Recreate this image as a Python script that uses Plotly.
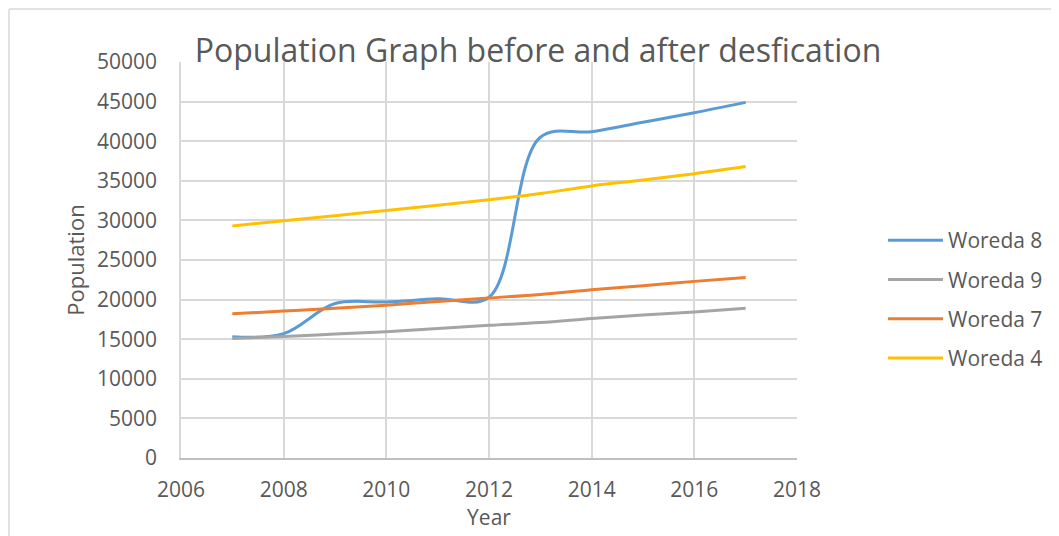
import plotly.graph_objects as go

years = [2007, 2008, 2009, 2010, 2011, 2012, 2013, 2014, 2015, 2016, 2017]
woreda8 = [15300, 15700, 19500, 19700, 20100, 20300, 40500, 41200, 42400, 43600, 44900]
woreda9 = [15100, 15350, 15650, 15950, 16350, 16750, 17100, 17600, 18050, 18450, 18900]
woreda7 = [18200, 18550, 18900, 19300, 19750, 20200, 20650, 21250, 21750, 22300, 22800]
woreda4 = [29300, 29950, 30600, 31250, 31900, 32600, 33400, 34350, 35100, 35900, 36800]

series = [
    ('Woreda 8', woreda8, '#5b9bd5'),
    ('Woreda 9', woreda9, '#a5a5a5'),
    ('Woreda 7', woreda7, '#ed7d31'),
    ('Woreda 4', woreda4, '#ffc000'),
]

FONT = 'Open Sans'
GREY = '#595959'

fig = go.Figure()
for name, vals, col in series:
    fig.add_trace(go.Scatter(
        x=years, y=vals, name=name, mode='lines',
        line=dict(color=col, width=3, shape='spline', smoothing=1.0),
        legendgroup=name))

# page body has an 8px margin, so work in figure pixels = window pixels - 8
OFF = 8
W, H = 1059 - OFF, 536 - OFF
L, R, T, B = 181 - OFF, W - (797 - OFF), 62 - OFF, H - (458 - OFF)
pw, ph = W - L - R, H - T - B

def px(x):
    return (x - OFF - L) / pw

def py(y):
    return (H - B - (y - OFF)) / ph

# outer chart border (top and left edges visible)
fig.add_shape(type='line', xref='paper', yref='paper',
              x0=px(9), x1=px(1070), y0=py(9), y1=py(9),
              line=dict(color='#d9d9d9', width=1.5))
fig.add_shape(type='line', xref='paper', yref='paper',
              x0=px(9), x1=px(9), y0=py(9), y1=py(545),
              line=dict(color='#d9d9d9', width=1.5))

fig.update_layout(
    width=W, height=H,
    margin=dict(l=L, r=R, t=T, b=B, autoexpand=False),
    paper_bgcolor='white', plot_bgcolor='white',
    font=dict(family=FONT, color=GREY),
    title=dict(text='Population Graph before and after desfication',
               font=dict(size=32, color=GREY, family=FONT),
               xref='container', x=(538 - OFF) / W, xanchor='center',
               yref='container', y=1 - 43 / H, yanchor='middle'),
    legend=dict(x=px(883), y=py(220), xanchor='left', yanchor='top',
                font=dict(size=21, color=GREY), tracegroupgap=9,
                itemwidth=55, bgcolor='rgba(0,0,0,0)'),
)
fig.update_xaxes(range=[2006, 2018], dtick=2, tick0=2006, automargin=False,
                 showgrid=True, gridcolor='#d9d9d9', gridwidth=1.5,
                 showline=True, linecolor='#bfbfbf', linewidth=1.5,
                 zeroline=False, ticks='', ticklabelstandoff=12,
                 tickfont=dict(size=21, color=GREY),
                 title=dict(text='Year', font=dict(size=21, color=GREY), standoff=5))
fig.update_yaxes(range=[0, 50000], dtick=5000, tickformat='d', automargin=False,
                 showgrid=True, gridcolor='#d9d9d9', gridwidth=1.5,
                 showline=True, linecolor='#d9d9d9', linewidth=1.5,
                 zeroline=False, ticks='', ticklabelstandoff=18,
                 tickfont=dict(size=21, color=GREY),
                 title=dict(text='Population', font=dict(size=22, color=GREY), standoff=6))

fig.write_html('out.html')
